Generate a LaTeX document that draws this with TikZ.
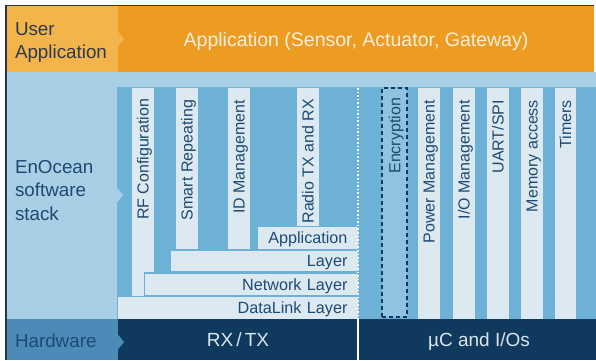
\documentclass[tikz,border=0pt]{standalone}
\usepackage{fontspec}
\setmainfont{Liberation Sans}
\usetikzlibrary{calc}
\definecolor{orangeM}{HTML}{EE9B22}
\definecolor{orangeL}{HTML}{F3B44B}
\definecolor{blueL}{HTML}{A8CFE5}
\definecolor{blueM}{HTML}{6EB1D6}
\definecolor{colpale}{HTML}{DDE9F1}
\definecolor{blueE}{HTML}{90C3DF}
\definecolor{navy}{HTML}{0F3A5D}
\definecolor{steel}{HTML}{4C8AB7}
\definecolor{txtnavy}{HTML}{1D4A73}
\definecolor{framec}{HTML}{22394C}
\definecolor{usertxt}{HTML}{2C3A4E}
\definecolor{apptxt}{HTML}{FBEFDC}
\definecolor{hwtxt}{HTML}{DCE5EE}
\begin{document}
\begin{tikzpicture}[x=1pt,y=-1pt,
  every node/.style={inner sep=0pt, outer sep=0pt},
  region/.style={anchor=north west, draw=none},
  biglabel/.style={anchor=base west, text width=104pt, align=left,
    font=\fontsize{18.8}{23.5}\selectfont},
  vcol/.style={anchor=north west, fill=colpale, minimum width=21.5pt},
  vlab/.style={rotate=90, anchor=east, text=txtnavy,
    font=\fontsize{16}{19}\selectfont, text height=11.5pt, text depth=0pt},
  layerbox/.style={anchor=north west, fill=colpale, draw=blueM, line width=1.5pt,
    inner xsep=11pt, align=right, text=txtnavy,
    font=\fontsize{16.2}{19}\selectfont, text height=11.6pt, text depth=0pt},
  hwbox/.style={anchor=north west, fill=navy, minimum height=41pt, text=hwtxt,
    font=\fontsize{19}{23}\selectfont, text height=13.6pt, text depth=0pt}
]
\useasboundingbox (0,0) rectangle (596,360);
\fill[white] (0,0) rectangle (596,360);

% ---- user application band
\node[region, fill=orangeL, minimum width=112pt, minimum height=66pt] (usrbox) at (6,6) {};
\node[region, fill=orangeM, minimum width=476pt, minimum height=66pt,
      text=apptxt, font=\fontsize{19.5}{23}\selectfont, text height=14pt, text depth=0pt]
      (appbox) at (118,6) {Application (Sensor, Actuator, Gateway)};
\fill[orangeL] (117.5,31) -- (124,39) -- (117.5,47) -- cycle;
\node[biglabel, text=usertxt] (usrlab) at (15,35) {User\\Application};

% ---- EnOcean software stack band
\node[region, fill=blueL, minimum width=590pt, minimum height=247pt] (stackbox) at (6,72) {};
\node[region, fill=blueM, minimum width=479pt, minimum height=232pt] (inner) at (117,87) {};
\fill[blueL] (116.5,187) -- (123,195) -- (116.5,203) -- cycle;
\node[biglabel, text=txtnavy] (stacklab) at (15,173) {EnOcean\\software\\stack};

% ---- protocol columns
\node[vcol, minimum height=209pt] (rf) at (132,88) {};
\node[vcol, minimum height=163pt] (smart) at (176,88) {};
\node[vcol, minimum height=163pt] (idm) at (228,88) {};
\node[vcol, minimum height=139pt] (radio) at (297,88) {};

% ---- layer boxes
\node[layerbox, text width=79.5pt, minimum height=23pt] (applayer) at (257,226.5) {Application};
\node[layerbox, text width=166pt, minimum height=22pt] (layer) at (170.5,250) {Layer};
\node[layerbox, text width=192pt, minimum height=23pt] (netlayer) at (144.5,273) {Network Layer};
\node[layerbox, text width=219pt, minimum height=23pt] (dllayer) at (117.5,296.5) {DataLink Layer};

% ---- system columns
\node[anchor=north west, fill=blueE, draw=navy, line width=1.2pt, dash pattern=on 4pt off 3pt,
      minimum width=25pt, minimum height=229pt] (enc) at (382,88) {};
\node[vcol, minimum height=231pt] (power) at (418,88) {};
\node[vcol, minimum height=231pt] (iom) at (453,88) {};
\node[vcol, minimum height=231pt] (uart) at (487,88) {};
\node[vcol, minimum height=231pt] (mem) at (521,88) {};
\node[vcol, minimum height=231pt] (timers) at (554.5,88) {};

% ---- vertical labels
\node[vlab] (rflab) at ($(rf.north)+(0,11)$) {RF Configuration};
\node[vlab] (smartlab) at ($(smart.north)+(0,12)$) {Smart Repeating};
\node[vlab] (idmlab) at ($(idm.north)+(0,12)$) {ID Management};
\node[vlab] (radiolab) at ($(radio.north)+(0,11)$) {Radio TX and RX};
\node[vlab] (enclab) at ($(enc.north)+(0,10)$) {Encryption};
\node[vlab] (powerlab) at ($(power.north)+(0,12)$) {Power Management};
\node[vlab] (iomlab) at ($(iom.north)+(0,12)$) {I/O Management};
\node[vlab] (uartlab) at ($(uart.north)+(0,12)$) {UART/SPI};
\node[vlab] (memlab) at ($(mem.north)+(0,12)$) {Memory access};
\node[vlab] (timerslab) at ($(timers.north)+(0,12)$) {Timers};

% ---- hardware band
\node[region, fill=steel, minimum width=112pt, minimum height=41pt] (hwlbl) at (6,319) {};
\node[hwbox, minimum width=240pt] (rxtx) at (118,319) {RX\,/\,TX};
\node[hwbox, minimum width=246pt] (uc) at (356,319) {µC and I/Os};
\fill[steel] (117.5,334) -- (124,342) -- (117.5,350) -- cycle;
\node[anchor=west, text=txtnavy, font=\fontsize{18.8}{23}\selectfont,
      text height=13.4pt, text depth=0pt] (hwlab) at (15,340.5) {Hardware};

% ---- divider
\coordinate (divtop) at (358,88);
\coordinate (divmid) at (358,319);
\coordinate (divbot) at (358,360);
\draw[white, line width=1.2pt, dash pattern=on 1.6pt off 2pt] (divtop) -- (divmid);
\draw[white, line width=1.2pt] (divmid) -- (divbot);

% ---- frame
\coordinate (fA) at (6,360);
\coordinate (fB) at (6,5.5);
\coordinate (fC) at (594,5.5);
\draw[framec, line width=1.3pt] (fA) -- (fB) -- (fC);
\end{tikzpicture}
\end{document}
